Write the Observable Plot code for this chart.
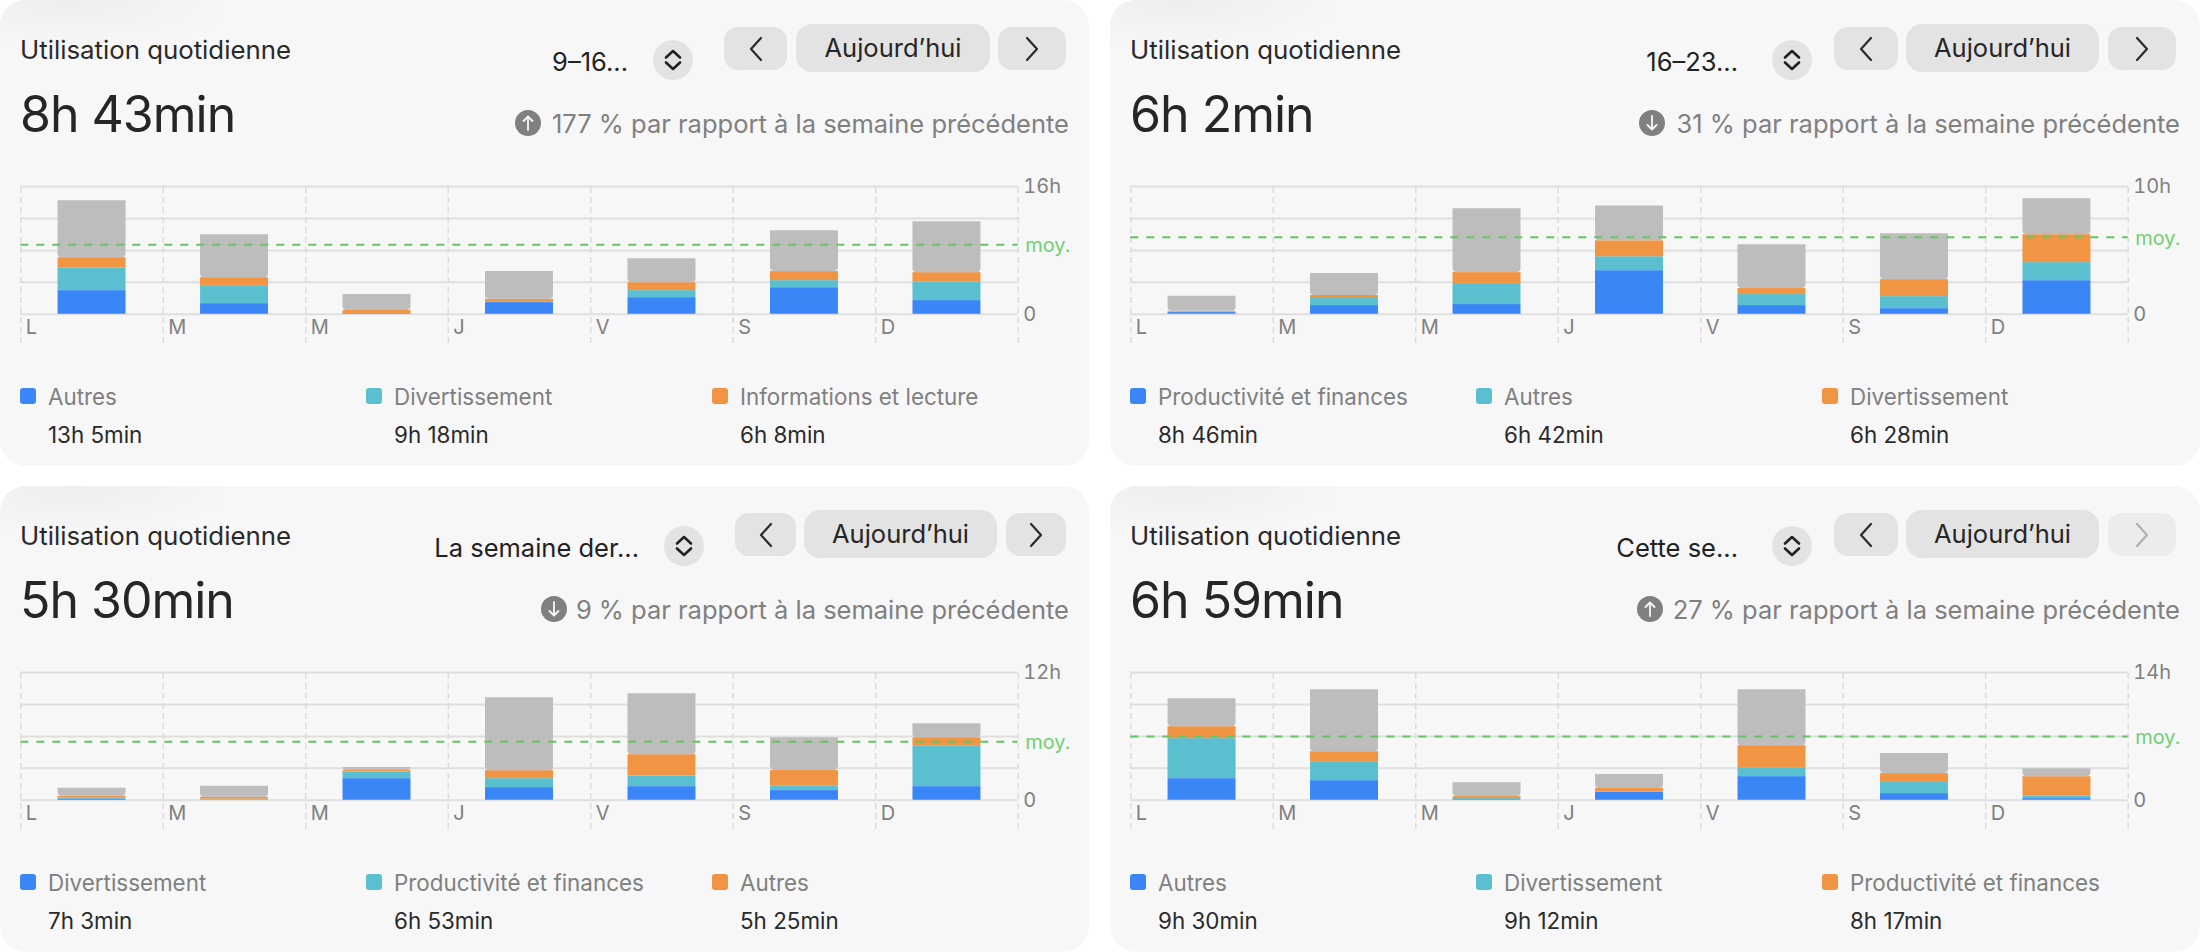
<!DOCTYPE html>
<html lang="fr"><head><meta charset="utf-8">
<script src="https://cdn.jsdelivr.net/npm/d3@7"></script>
<script src="https://cdn.jsdelivr.net/npm/@observablehq/plot@0.6"></script>
<style>
html,body{margin:0;padding:0;background:#fff}
body{width:2200px;height:952px;position:relative;overflow:hidden;font-family:Inter,"Noto Sans",sans-serif;-webkit-font-smoothing:antialiased}
.panel{position:absolute;background:#f7f7f7;border-radius:26px;overflow:hidden}
.panel::before{content:"";position:absolute;left:0;top:0;width:220px;height:70px;background:radial-gradient(ellipse 170px 50px at 70px 0,#eeeeee,rgba(247,247,247,0))}
.panel svg.chart{position:absolute;left:0;top:0;overflow:visible}
.abs{position:absolute;white-space:nowrap;line-height:1}
.title{left:20px;top:36.5px;font-size:25.8px;color:#2a2a2a}
.big{left:20px;top:89px;font-size:50px;color:#262626;font-weight:400;letter-spacing:-1px}
.period{top:49px;font-size:25.5px;color:#222}
.circ{top:40px;width:40px;height:40px;border-radius:50%;background:#e3e3e3}
.btn{background:#e3e3e3;border-radius:14px;top:27px;height:43px}
.today{top:24px;height:48px;font-size:25.5px;color:#262626;text-align:center;line-height:48px;border-radius:16px}
.pct{top:110.5px;right:20px;font-size:25.5px;color:#808080}
.dot{top:110px;width:26px;height:26px;border-radius:50%;background:#808080}
.sw{top:388px;width:16px;height:16px;border-radius:3px}
.lab{top:385.5px;font-size:22.4px;color:#808080}
.val{top:423.5px;font-size:22.4px;color:#2a2a2a}
</style></head><body>
<script>
const days = ["L","M","M","J","V","S","D"];
const colors = ["#3b86f7","#5ac0cf","#f19443","#bdbdbd"];

const names1 = ["Autres","Divertissement","Informations et lecture"];
const times1 = ["13h 5min","9h 18min","6h 8min"];
const blue1 = [2.96,1.33,0.08,1.46,2.08,3.33,1.71];
const teal1 = [2.83,2.25,0.02,0.03,0.88,0.88,2.33];
const orange1 = [1.29,1.00,0.37,0.38,1.00,1.13,1.17];
const gray1 = [7.13,5.38,2.00,3.50,3.00,5.13,6.38];

const names2 = ["Productivité et finances","Autres","Divertissement"];
const times2 = ["8h 46min","6h 42min","6h 28min"];
const blue2 = [0.13,0.68,0.76,3.41,0.68,0.44,2.63];
const teal2 = [0.05,0.63,1.64,1.09,0.86,0.94,1.41];
const orange2 = [0.05,0.16,0.86,1.25,0.47,1.33,2.19];
const gray2 = [1.17,1.72,5.00,2.73,3.44,3.59,2.81];

const names3 = ["Divertissement","Productivité et finances","Autres"];
const times3 = ["7h 3min","6h 53min","5h 25min"];
const blue3 = [0.13,0.01,2.03,1.19,1.28,0.91,1.28];
const teal3 = [0.06,0.09,0.63,0.84,1.00,0.44,3.84];
const orange3 = [0.19,0.19,0.13,0.75,2.00,1.44,0.75];
const gray3 = [0.75,1.03,0.28,6.84,5.72,3.09,1.31];

const names4 = ["Autres","Divertissement","Productivité et finances"];
const times4 = ["9h 30min","9h 12min","8h 17min"];
const blue4 = [2.37,2.15,0.07,0.88,2.59,0.73,0.18];
const teal4 = [4.38,2.08,0.11,0.02,0.98,1.31,0.29];
const orange4 = [1.31,1.09,0.22,0.40,2.41,0.88,2.11];
const gray4 = [3.06,6.78,1.53,1.53,6.12,2.19,0.88];

const panels = [
  {left:0,top:0,w:1089,max:16,avg:8.717,total:"8h 43min",pct:"177 % par rapport à la semaine précédente",up:true,dotX:514.5,period:"9–16...",gap:25,circ:653,b:[724,787,796,990,998,1066],names:names1,times:times1,s:[blue1,teal1,orange1,gray1]},
  {left:1110,top:0,w:1090,max:10,avg:6.033,total:"6h 2min",pct:"31 % par rapport à la semaine précédente",up:false,dotX:529,period:"16–23...",gap:34,circ:662,b:[724,788,796,989,998,1066],names:names2,times:times2,s:[blue2,teal2,orange2,gray2]},
  {left:0,top:486,w:1089,max:12,avg:5.5,total:"5h 30min",pct:"9 % par rapport à la semaine précédente",up:false,dotX:541,period:"La semaine der...",gap:25,circ:664,b:[735,796,804,997,1006,1066],names:names3,times:times3,s:[blue3,teal3,orange3,gray3]},
  {left:1110,top:486,w:1090,max:14,avg:6.983,total:"6h 59min",pct:"27 % par rapport à la semaine précédente",up:true,dotX:527,period:"Cette se...",gap:34,circ:662,b:[724,788,796,989,998,1066],names:names4,times:times4,s:[blue4,teal4,orange4,gray4],lastOff:true}
];

const chev = (dir,col) => {
  const d = dir==="l" ? "M17 3 L7 14 L17 25" : "M7 3 L17 14 L7 25";
  return `<svg width="24" height="28" viewBox="0 0 24 28" style="position:absolute;left:50%;top:50%;transform:translate(-50%,-50%)"><path d="${d}" fill="none" stroke="${col}" stroke-width="2.2" stroke-linecap="round" stroke-linejoin="round"/></svg>`;
};
const updown = `<svg width="40" height="40" viewBox="0 0 40 40" style="position:absolute;left:0;top:0"><path d="M13 17.5 L20 11 L27 17.5 M13 22.5 L20 29 L27 22.5" fill="none" stroke="#222" stroke-width="2.6" stroke-linecap="round" stroke-linejoin="round"/></svg>`;
const arrow = up => `<svg width="26" height="26" viewBox="0 0 26 26" style="position:absolute;left:0;top:0"><path d="${up?"M13 20 V7 M8.5 11 L13 6.5 L17.5 11":"M13 6 V19 M8.5 15 L13 19.5 L17.5 15"}" fill="none" stroke="#f7f7f7" stroke-width="1.8" stroke-linecap="round" stroke-linejoin="round"/></svg>`;

for (const p of panels) {
  const el = document.createElement("div");
  el.className = "panel";
  el.style.cssText = `left:${p.left}px;top:${p.top}px;width:${p.w}px;height:466px`;
  const cols = [20,366,712];
  el.innerHTML = `
    <div class="abs title">Utilisation quotidienne</div>
    <div class="abs big">${p.total}</div>
    <div class="abs period" style="right:${p.w-p.circ+p.gap}px">${p.period}</div>
    <div class="abs circ" style="left:${p.circ}px">${updown}</div>
    <div class="abs btn" style="left:${p.b[0]}px;width:${p.b[1]-p.b[0]}px">${chev("l","#2a2a2a")}</div>
    <div class="abs btn today" style="left:${p.b[2]}px;width:${p.b[3]-p.b[2]}px">Aujourd’hui</div>
    <div class="abs btn" style="left:${p.b[4]}px;width:${p.b[5]-p.b[4]}px;${p.lastOff?"background:#ececec":""}">${chev("r",p.lastOff?"#b0b0b0":"#2a2a2a")}</div>
    <div class="abs dot" style="left:${p.dotX}px">${arrow(p.up)}</div>
    <div class="abs pct">${p.pct}</div>
    ${p.names.map((n,i)=>`
      <div class="abs sw" style="left:${cols[i]}px;background:${colors[i]}"></div>
      <div class="abs lab" style="left:${cols[i]+28}px">${n}</div>
      <div class="abs val" style="left:${cols[i]+28}px">${p.times[i]}</div>`).join("")}`;
  document.body.appendChild(el);

  const rows = [];
  days.forEach((_, d) => {
    let acc = 0;
    p.s.forEach((vals, c) => { rows.push({d, c, y1: acc, y2: acc + vals[d]}); acc += vals[d]; });
  });
  const low = -p.max * 29.3 / 128;
  const idx = d3.range(7);
  const grid = d3.range(5).map(i => p.max * i / 4);
  const step = (1017.7 - 20.3) / 7;
  const chart = Plot.plot({
    width: p.w, height: 370,
    marginTop: 186, marginBottom: 27, marginLeft: 20.3, marginRight: p.w - 1017.7,
    style: {background: "transparent", overflow: "visible", fontFamily: "Inter, sans-serif"},
    x: {type: "band", domain: idx, paddingInner: 0.523, paddingOuter: 0.2615, round: false, axis: null},
    y: {domain: [low, p.max], axis: null},
    color: {type: "ordinal", domain: [0,1,2,3], range: colors},
    marks: [
      Plot.ruleY(grid, {stroke: "#dfdfdf", strokeWidth: 2}),
      Plot.ruleX(idx, {x: d => d, dx: -step/2, y1: low, y2: p.max, stroke: "#dcdcdc", strokeWidth: 1.5, strokeDasharray: "6,4"}),
      Plot.ruleX([6], {x: d => d, dx: step/2, y1: low, y2: p.max, stroke: "#dcdcdc", strokeWidth: 1.5, strokeDasharray: "6,4"}),
      Plot.barY(rows.filter(r => r.c < 3), {x: "d", y1: "y1", y2: "y2", fill: "c"}),
      Plot.barY(rows.filter(r => r.c === 3), {x: "d", y1: "y1", y2: "y2", fill: "c", ry2: 4}),
      Plot.ruleY([p.avg], {stroke: "#5fc865", strokeWidth: 2, strokeDasharray: "8,8"}),
      Plot.text(["moy."], {y: p.avg, frameAnchor: "right", dx: 7, dy: 1, textAnchor: "start", fill: "#6fcf74", fontSize: 20}),
      Plot.axisY({anchor: "right", label: null, ticks: [0, p.max], tickFormat: d => d ? d + "h" : "0", tickSize: 0, tickPadding: 5, fontSize: 20, fill: "#808080"}),
      Plot.axisX({anchor: "bottom", label: null, tickSize: 0, tickFormat: i => days[i], textAnchor: "start", dx: -step/2 + 5, dy: -33, fontSize: 20, fill: "#808080"})
    ]
  });
  chart.classList.add("chart");
  el.appendChild(chart);
}
</script>
</body></html>
